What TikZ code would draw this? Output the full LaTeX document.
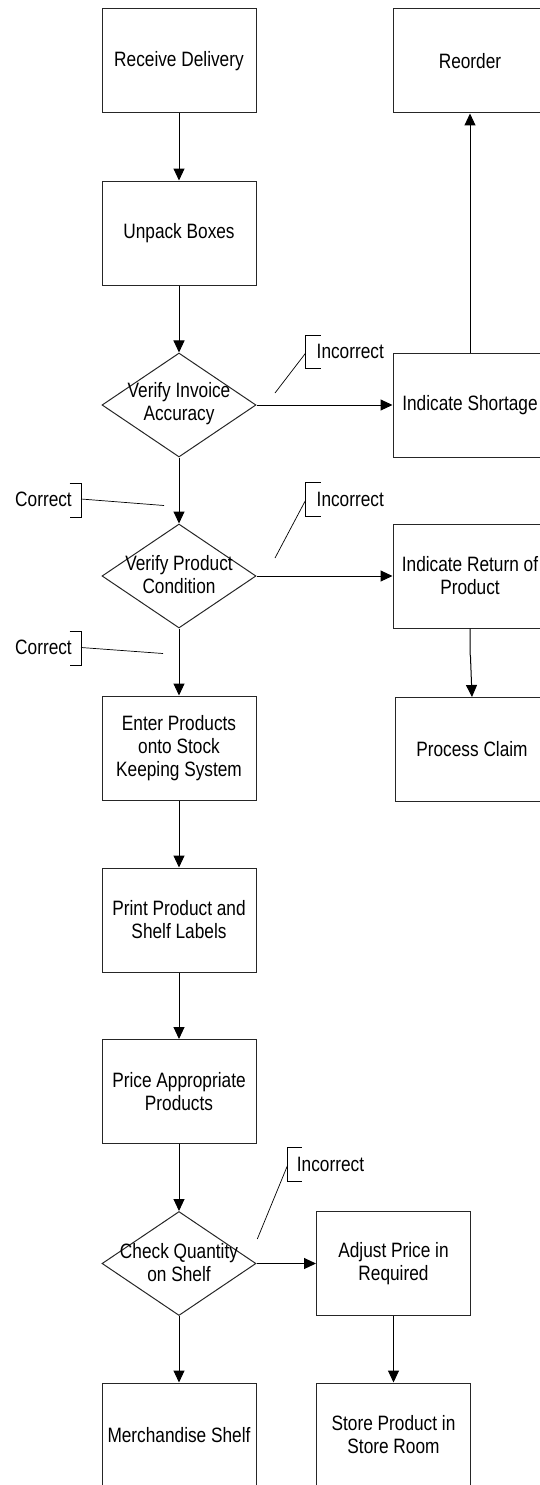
\documentclass[tikz,border=0pt]{standalone}
\usepackage{fontspec}
\setmainfont{Liberation Sans}[FakeStretch=0.83]
\usetikzlibrary{arrows.meta,shapes.geometric,calc}
\begin{document}
\begin{tikzpicture}[x=1pt,y=-1pt,
  every node/.style={font=\fontsize{20.8}{23}\selectfont},
  box/.style={draw=black!85, line width=1pt, rectangle, minimum width=154pt,
              minimum height=104pt, inner sep=0pt, align=center},
  decision/.style={draw=black!85, line width=1pt, diamond,
                   minimum width=154pt, minimum height=104pt, inner sep=0pt},
  caption/.style={align=center, inner sep=0pt},
  tag/.style={inner sep=0pt},
  flow/.style={line width=1pt, -{Triangle[length=12pt,width=11pt]}},
  leader/.style={line width=0.7pt},
  bracket/.style={line width=0.8pt}]
\useasboundingbox (0,0) rectangle (540,1485);

% main column
\node[box] (recv) at (179,61) {Receive Delivery};
\node[box] (unpack) at (179,233) {Unpack Boxes};
\node[decision] (inv) at (179,405) {};
\node[caption] (invtxt) at (179,404) {Verify Invoice\\Accuracy};
\node[decision] (cond) at (179,576) {};
\node[caption] (condtxt) at (179,575) {Verify Product\\Condition};
\node[box] (enter) at (179,748) {Enter Products\\onto Stock\\Keeping System};
\node[box] (print) at (179,920) {Print Product and\\Shelf Labels};
\node[box] (price) at (179,1091.5) {Price Appropriate\\Products};
\node[decision] (qty) at (179,1263.5) {};
\node[caption] (qtytxt) at (179,1262.5) {Check Quantity\\on Shelf};
\node[box] (merch) at (179,1435) {Merchandise Shelf};

% right-hand branches
\node[box] (reorder) at (470,61) {Reorder};
\node[box] (short) at (470,405) {Indicate Shortage};
\node[box] (ret) at (470,576) {Indicate Return of\\Product};
\node[box] (claim) at (472,749.5) {Process Claim};
\node[box] (adjust) at (393.5,1263.5) {Adjust Price in\\Required};
\node[box] (store) at (393.5,1435) {Store Product in\\Store Room};

% flow connectors
\draw[flow] (recv) -- (unpack);
\draw[flow] (unpack) -- (inv);
\draw[flow] (inv) -- (short);
\draw[flow] (short) -- (reorder);
\draw[flow] (inv) -- (cond);
\draw[flow] (cond) -- (ret);
\draw[flow] (ret.south) -- ++(0,25) -- ($(claim.north)+(-1.5,-40)$) -- (claim.north);
\draw[flow] (cond) -- (enter);
\draw[flow] (enter) -- (print);
\draw[flow] (print) -- (price);
\draw[flow] (price) -- (qty);
\draw[flow] (qty) -- (adjust);
\draw[flow] (qty) -- (merch);
\draw[flow] (adjust) -- (store);

% decision annotations
\node[tag, anchor=west] (inc1) at (316.5,351) {Incorrect};
\coordinate (inc1hook) at (305.7,353);
\coordinate (inc1end) at (275,393);
\draw[bracket] (320.5,335) -- (305.7,335) -- (305.7,368) -- (320.5,368);
\draw[leader] (inc1hook) -- (inc1end);

\node[tag, anchor=west] (inc2) at (316.5,499) {Incorrect};
\coordinate (inc2hook) at (305.7,500);
\coordinate (inc2end) at (275,558);
\draw[bracket] (320.5,482) -- (305.7,482) -- (305.7,516) -- (320.5,516);
\draw[leader] (inc2hook) -- (inc2end);

\node[tag, anchor=west] (inc3) at (296.7,1164) {Incorrect};
\coordinate (inc3hook) at (287.7,1165);
\coordinate (inc3end) at (257.3,1239);
\draw[bracket] (301.7,1147) -- (287.7,1147) -- (287.7,1181) -- (301.7,1181);
\draw[leader] (inc3hook) -- (inc3end);

\node[tag, anchor=east] (cor1) at (72,499) {Correct};
\coordinate (cor1hook) at (81,499);
\coordinate (cor1end) at (164,505.5);
\draw[bracket] (69.5,483) -- (81,483) -- (81,517) -- (69.5,517);
\draw[leader] (cor1hook) -- (cor1end);

\node[tag, anchor=east] (cor2) at (72,647) {Correct};
\coordinate (cor2hook) at (81,647.5);
\coordinate (cor2end) at (163,653.5);
\draw[bracket] (69.5,631) -- (81,631) -- (81,665) -- (69.5,665);
\draw[leader] (cor2hook) -- (cor2end);
\end{tikzpicture}
\end{document}
